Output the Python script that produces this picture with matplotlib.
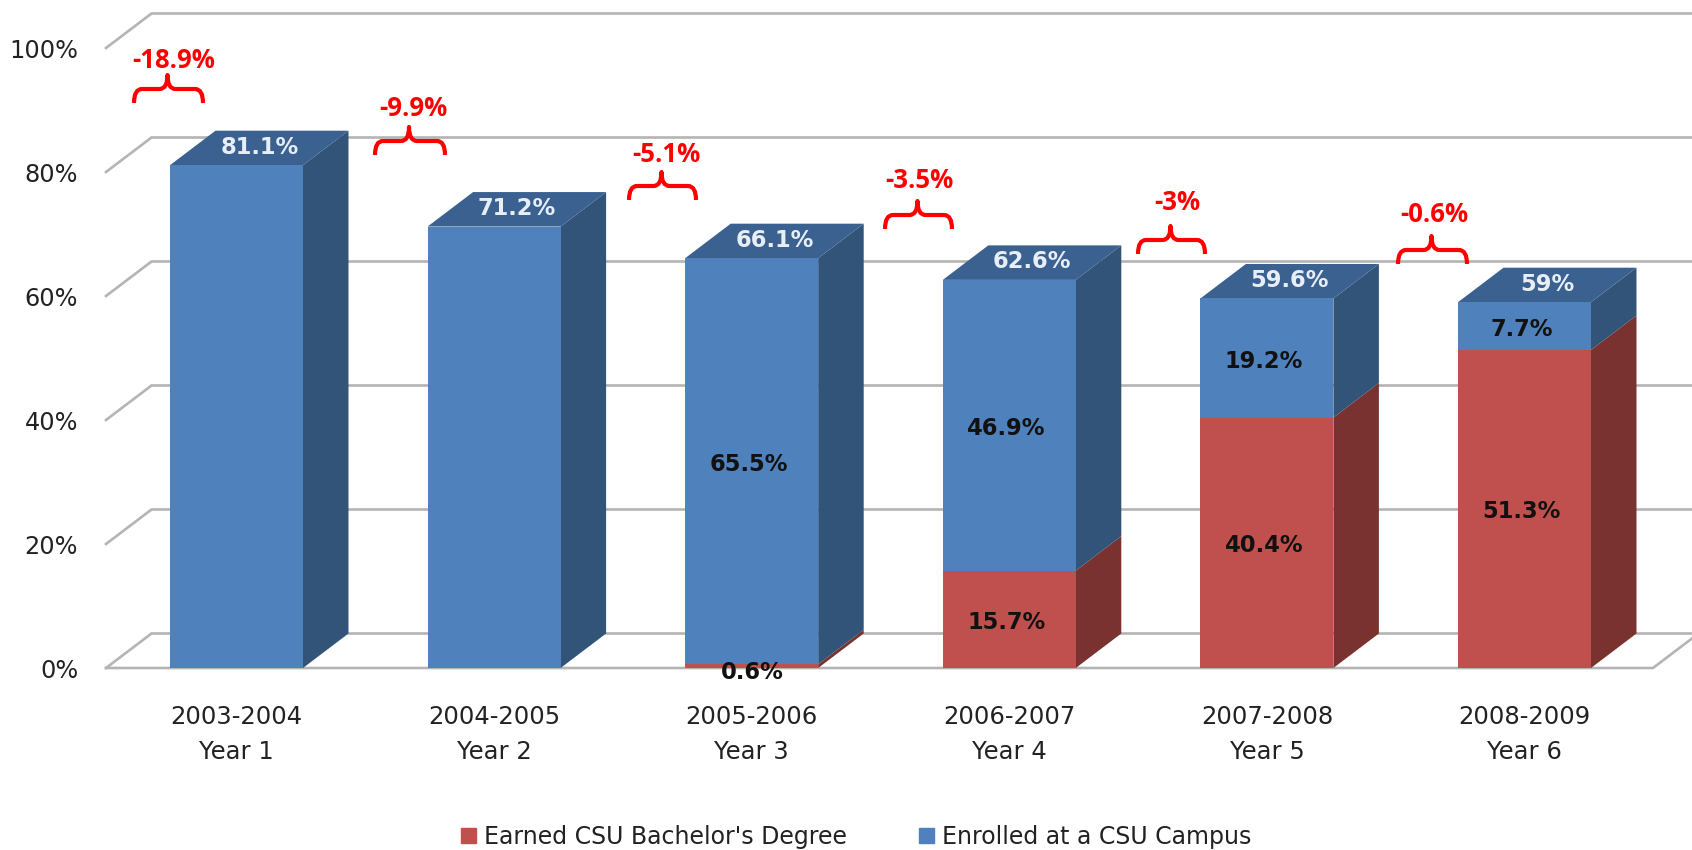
import matplotlib
matplotlib.use("Agg")
import matplotlib.pyplot as plt
from matplotlib.path import Path
from matplotlib.patches import PathPatch, Patch
from matplotlib.transforms import Affine2D

W, H = 1692, 850
plt.rcParams['font.family'] = ['DejaVu Sans']

# ---- data ----
years = ["2003-2004", "2004-2005", "2005-2006", "2006-2007", "2007-2008", "2008-2009"]
year_nums = ["Year 1", "Year 2", "Year 3", "Year 4", "Year 5", "Year 6"]
earned = [0, 0, 0.6, 15.7, 40.4, 51.3]
enrolled = [81.1, 71.2, 65.5, 46.9, 19.2, 7.7]
total_labels = ["81.1%", "71.2%", "66.1%", "62.6%", "59.6%", "59%"]
change_labels = ["-18.9%", "-9.9%", "-5.1%", "-3.5%", "-3%", "-0.6%"]
y_ticks = [0, 20, 40, 60, 80, 100]

# ---- layout (pixels of the reference) ----
AX_L, AX_R, AX_T, AX_B = 106, 1653, 48, 668
X0, STEP, BAR_W = 236.5, 257.6, 133
PX_X = 1 / STEP
PX_Y = 100 / (AX_B - AX_T)
DX, DY = 45.5 * PX_X, 34.5 * PX_Y
BW = BAR_W * PX_X

BLUE, BLUE_SIDE, BLUE_TOP = "#4F81BD", "#325479", "#3A6190"
RED, RED_SIDE = "#C0504D", "#7A3230"
GRID = "#B4B4B4"

fig = plt.figure(figsize=(W / 100, H / 100), dpi=100, facecolor="white")
ax = fig.add_axes([AX_L / W, 1 - AX_B / H, (AX_R - AX_L) / W, (AX_B - AX_T) / H])
ax.set_xlim((AX_L - X0) * PX_X, (AX_R - X0) * PX_X)
ax.set_ylim(0, 100)
for s in ax.spines.values():
    s.set_visible(False)
ax.patch.set_visible(False)

# pixel transform for the hand-placed annotations
px = Affine2D().scale(1, -1).translate(0, H)

# ---- walls / gridlines ----
xl, xr = ax.get_xlim()
for t in y_ticks:
    ax.plot([xl, xl + DX, xr + 60 * PX_X], [t, t + DY, t + DY], color=GRID, lw=1.9,
            clip_on=False, zorder=1, solid_joinstyle="miter")
ax.plot([xl, xr, xr + 60 * PX_X], [0, 0, DY * 60 / 45.5], color=GRID, lw=1.9,
        clip_on=False, zorder=1)

# ---- bars ----
xs = list(range(len(years)))
for i in xs:
    base, top = earned[i], earned[i] + enrolled[i]
    left, right = i - BW / 2, i + BW / 2
    if base > 0:
        ax.fill([right, right + DX, right + DX, right], [0, DY, base + DY, base],
                color=RED_SIDE, lw=0, zorder=3)
    ax.fill([right, right + DX, right + DX, right], [base, base + DY, top + DY, top],
            color=BLUE_SIDE, lw=0, zorder=3)
    ax.fill([left, right, right + DX, left + DX], [top, top, top + DY, top + DY],
            color=BLUE_TOP, lw=0, zorder=3)
ax.bar(xs, earned, width=BW, color=RED, lw=0, zorder=4, label="Earned CSU Bachelor's Degree")
ax.bar(xs, enrolled, width=BW, bottom=earned, color=BLUE, lw=0, zorder=4, label="Enrolled at a CSU Campus")

# ---- value labels ----
LAB = dict(fontsize=16.3, fontweight="bold", ha="center", va="center", zorder=6)
for i in xs:
    top = earned[i] + enrolled[i]
    ax.text(i + 23 * PX_X, top + 18 * PX_Y, total_labels[i], color="#E8EEF7", **LAB)
    if i >= 2:
        ax.text(i - 3 * PX_X, earned[i] + enrolled[i] / 2 - 3 * PX_Y, f"{enrolled[i]}%", color="#111111", **LAB)
    if earned[i] > 5:
        ax.text(i - 3 * PX_X, earned[i] / 2 - 3 * PX_Y, f"{earned[i]}%", color="#111111", **LAB)
    elif earned[i] > 0:
        ax.text(i + 1 * PX_X, -0.7, f"{earned[i]}%", color="#111111", **LAB)

# ---- axes text ----
ax.set_yticks(y_ticks, [f"{t}%" for t in y_ticks], fontsize=17.3, color="#222222")
ax.set_xticks(xs, [f"{a}\n{b}" for a, b in zip(years, year_nums)], fontsize=17.5,
              color="#222222", linespacing=1.55)
ax.tick_params(axis="both", length=0)
ax.tick_params(axis="y", pad=20)
ax.tick_params(axis="x", pad=27)

# ---- red braces: x0, x1, tip-bottom y, label centre x, label centre y ----
braces = [(134, 203, 103, 174, 60), (375, 445, 155, 413, 109), (629, 696, 200, 666, 154),
          (885, 952, 229, 919, 180), (1138, 1205, 254, 1177, 203), (1398, 1467, 264, 1434, 215)]
for lab, (a, b, y, tx, ty) in zip(change_labels, braces):
    m = (a + b) / 2 - 1
    lv = y - 14
    verts = [(a, y), (a, lv), (a + 8, lv), (m - 8, lv), (m, lv), (m, lv - 14),
             (m, lv), (m + 8, lv), (b - 8, lv), (b, lv), (b, y)]
    codes = [Path.MOVETO, Path.CURVE3, Path.CURVE3, Path.LINETO, Path.CURVE3, Path.CURVE3,
             Path.CURVE3, Path.CURVE3, Path.LINETO, Path.CURVE3, Path.CURVE3]
    fig.add_artist(PathPatch(Path(verts, codes), transform=px, fc="none", ec="#FF0000", lw=3.0,
                             capstyle="butt", joinstyle="round"))
    fig.text(tx, ty, lab, transform=px, color="#FF0000", fontsize=18.5, fontweight="bold",
             family="Open Sans", ha="center", va="center")

# ---- legend ----
handles = [Patch(color=RED, label="Earned CSU Bachelor's Degree"),
           Patch(color=BLUE, label="Enrolled at a CSU Campus")]
fig.legend(handles=handles, loc="center", bbox_to_anchor=(856.5 / W, 1 - 837 / H), ncol=2,
           frameon=False, fontsize=17.0, labelcolor="#222222", handlelength=0.62, handleheight=0.62,
           handletextpad=0.35, columnspacing=3.05, borderpad=0, borderaxespad=0)

fig.savefig("out.png", dpi=100, facecolor="white")
